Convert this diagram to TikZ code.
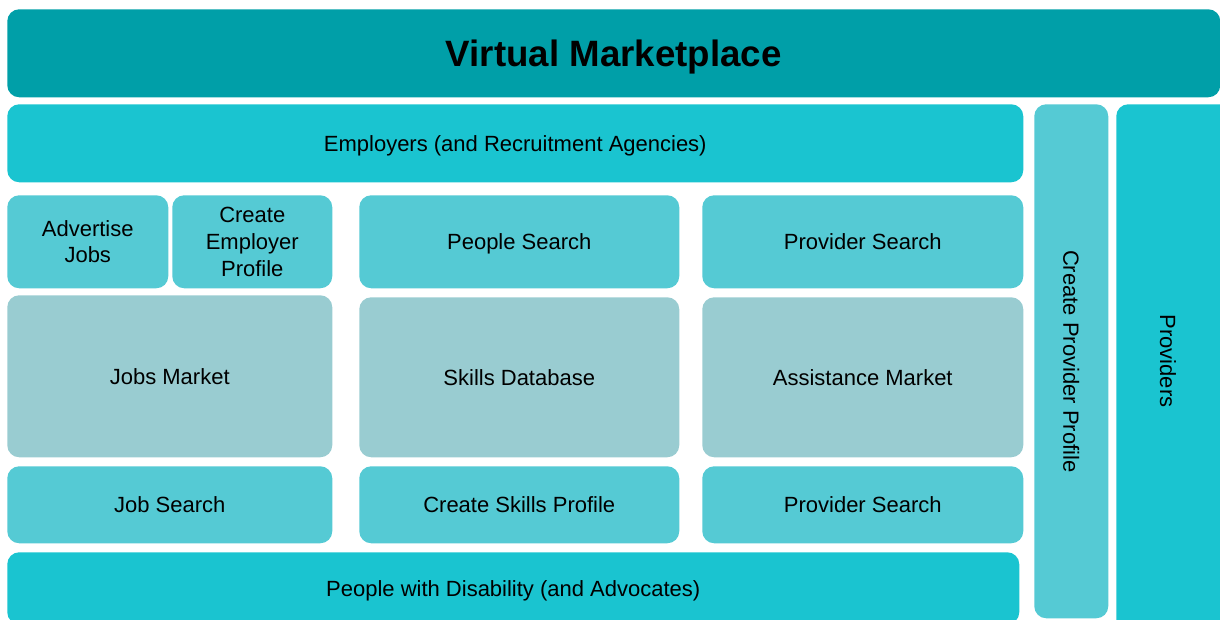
\documentclass[tikz,border=0pt]{standalone}
\usepackage{fontspec}
\setmainfont{Liberation Sans}
\definecolor{darkteal}{RGB}{0,159,168}
\definecolor{brightteal}{RGB}{26,196,208}
\definecolor{paleteal}{RGB}{85,202,212}
\definecolor{greyteal}{RGB}{153,204,209}
\begin{document}
\begin{tikzpicture}[x=0.75pt, y=-0.75pt,
    blk/.style={anchor=north west, rounded corners=9pt, inner sep=0pt, align=center,
        font=\fontsize{16.5}{20}\selectfont, text=black},
    flat/.style={text depth=0pt},
    dark/.style={blk, fill=darkteal},
    bright/.style={blk, fill=brightteal},
    pale/.style={blk, fill=paleteal},
    grey/.style={blk, fill=greyteal}]
    \useasboundingbox (0,0) rectangle (1220,619);
    \clip (0,0) rectangle (1220,619);

    % top banner
    \node[dark, flat, minimum width=909.75pt, minimum height=66pt,
        font=\fontsize{27.5}{32}\selectfont\bfseries] (market) at (7,9) {Virtual Marketplace};

    % employers side
    \node[bright, flat, minimum width=762pt, minimum height=58.5pt] (employers) at (7,104) {Employers (and Recruitment Agencies)};
    \node[pale, minimum width=120.75pt, minimum height=69.75pt] (advert) at (7,195) {Advertise\\Jobs};
    \node[pale, minimum width=120pt, minimum height=69.75pt] (empprofile) at (172,195) {Create\\Employer\\Profile};
    \node[pale, flat, minimum width=240pt, minimum height=69.75pt] (peoplesearch) at (359,195) {People Search};
    \node[pale, flat, minimum width=240.75pt, minimum height=69.75pt] (provsearchA) at (702,195) {Provider Search};

    % markets
    \node[grey, flat, minimum width=243.75pt, minimum height=121.5pt] (jobs) at (7,295) {Jobs Market};
    \node[grey, flat, minimum width=240pt, minimum height=120pt] (skills) at (359,297) {Skills Database};
    \node[grey, flat, minimum width=240.75pt, minimum height=120pt] (assist) at (702,297) {Assistance Market};

    % people side
    \node[pale, flat, minimum width=243.75pt, minimum height=57.75pt] (jobsearch) at (7,466) {Job Search};
    \node[pale, flat, minimum width=240pt, minimum height=57.75pt] (skillprofile) at (359,466) {Create Skills Profile};
    \node[pale, flat, minimum width=240.75pt, minimum height=57.75pt] (provsearchB) at (702,466) {Provider Search};
    \node[bright, flat, minimum width=759pt, minimum height=54pt] (people) at (7,552) {People with Disability (and Advocates)};

    % providers column
    \node[pale, minimum width=55.5pt, minimum height=385.5pt] (provprofile) at (1034,104) {};
    \node[rotate=-90, flat, font=\fontsize{16.5}{20}\selectfont] at (provprofile.center) {Create Provider Profile};
    \node[bright, minimum width=90pt, minimum height=397.5pt] (providers) at (1116,104) {};
    \node[rotate=-90, flat, font=\fontsize{16.5}{20}\selectfont] at (1168,361) {Providers};
\end{tikzpicture}
\end{document}
